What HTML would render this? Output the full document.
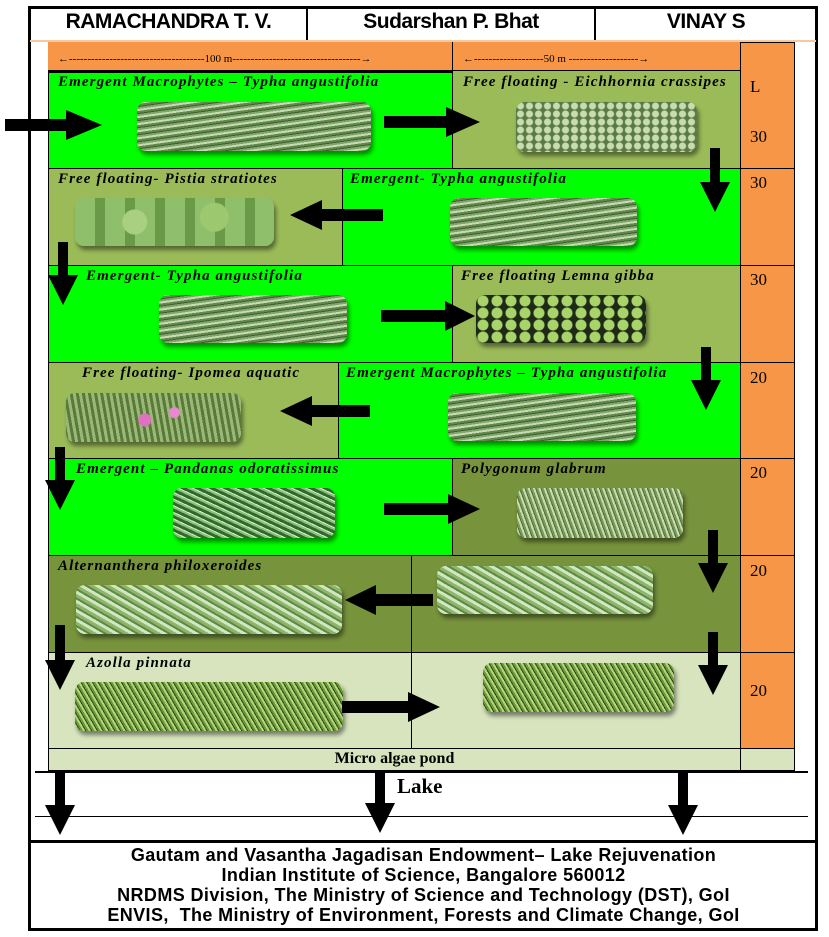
<!DOCTYPE html>
<html><head><meta charset="utf-8"><style>
*{margin:0;padding:0;box-sizing:border-box}
body{width:829px;height:937px;background:#fff;position:relative;overflow:hidden;font-family:"Liberation Serif",serif}
.a{position:absolute}
.c{position:absolute;border:1px solid #000}
.g{background:#00ff00}.o{background:#9bbb59}.d{background:#77933c}.l{background:#d7e4bd}.or{background:#f79646}
.t{position:absolute;font-style:italic;font-weight:bold;font-size:15px;letter-spacing:1.1px;color:#000;white-space:nowrap}
.n{position:absolute;font-size:17px;color:#000}
.img{position:absolute;border-radius:9px;box-shadow:2px 4px 4px rgba(0,0,0,.45)}
.typha{background:repeating-linear-gradient(-8deg,#5f8a4a 0 2px,#c9d9b4 2px 4px,#7ea66a 4px 6px,#3f5f30 6px 7px)}
.eich{background:radial-gradient(circle,#c8dcb0 0 3px,#5a7a44 4px) 0 0/9px 8px}
.pist{background:radial-gradient(circle at 30% 50%,#a8d080 0 12px,transparent 13px),radial-gradient(circle at 70% 40%,#9cc870 0 14px,transparent 15px),repeating-linear-gradient(90deg,#8fbf6a 0 20px,#6a9a48 20px 30px)}
.lem{background:radial-gradient(circle,#a8d46a 0 5px,#1e2a18 6px) 0 0/14px 12px}
.ipo{background:radial-gradient(circle at 45% 55%,#e070c0 0 6px,transparent 7px),radial-gradient(circle at 62% 40%,#e888d0 0 5px,transparent 6px),repeating-linear-gradient(80deg,#5a7a3a 0 3px,#9ab878 3px 6px)}
.pand{background:repeating-linear-gradient(25deg,#2f6a2a 0 3px,#8ac07a 3px 5px,#d8ecd0 5px 6px),#3f7a3a}
.poly{background:repeating-linear-gradient(70deg,#7a9a5a 0 2px,#c8dcb0 2px 4px,#4e6e36 4px 5px)}
.alt{background:repeating-linear-gradient(30deg,#8cb66c 0 3px,#d2e6c0 3px 6px,#5c8a44 6px 8px)}
.azo{background:repeating-linear-gradient(60deg,#6a9a38 0 2px,#b6d47a 2px 4px,#2a4a1a 4px 5px)}
.h{font-family:"Liberation Sans",sans-serif;font-weight:bold;font-size:21px;position:absolute;top:10px;text-align:center;letter-spacing:-0.5px}
.f{font-family:"Liberation Sans",sans-serif;font-weight:bold;font-size:18px;text-align:center;line-height:20px;letter-spacing:0.4px}
</style></head><body>
<div class="a" style="left:28px;top:6px;width:790px;height:925px;border:3px solid #000"></div>
<div class="a" style="left:306px;top:6px;width:2px;height:34px;background:#000"></div>
<div class="a" style="left:594px;top:6px;width:2px;height:34px;background:#000"></div>
<div class="h" style="left:31px;width:275px">RAMACHANDRA T. V.</div>
<div class="h" style="left:308px;width:286px">Sudarshan P. Bhat</div>
<div class="h" style="left:596px;width:220px">VINAY S</div>
<div class="a" style="left:30px;top:40px;width:786px;height:2px;background:#f8c8a0"></div>

<div class="a or" style="left:48px;top:42px;width:692px;height:28px"></div>
<div class="a" style="left:452px;top:42px;width:1px;height:28px;background:#000"></div>
<div class="a" style="left:58px;top:53px;font-size:11px;white-space:nowrap">←-------------------------------------100 m-----------------------------------→</div>
<div class="a" style="left:463px;top:53px;font-size:11px;white-space:nowrap">←-------------------50 m -------------------→</div>
<div class="c or" style="left:740px;top:42px;width:55px;height:127px"></div>
<div class="c or" style="left:740px;top:168px;width:55px;height:98px"></div>
<div class="c or" style="left:740px;top:265px;width:55px;height:98px"></div>
<div class="c or" style="left:740px;top:362px;width:55px;height:97px"></div>
<div class="c or" style="left:740px;top:458px;width:55px;height:98px"></div>
<div class="c or" style="left:740px;top:555px;width:55px;height:98px"></div>
<div class="c or" style="left:740px;top:652px;width:55px;height:97px"></div>
<div class="c l" style="left:740px;top:748px;width:55px;height:23px"></div>
<div class="n" style="left:750px;top:77px">L</div>
<div class="n" style="left:750px;top:127px">30</div>
<div class="n" style="left:750px;top:173px">30</div>
<div class="n" style="left:750px;top:270px">30</div>
<div class="n" style="left:750px;top:368px">20</div>
<div class="n" style="left:750px;top:463px">20</div>
<div class="n" style="left:750px;top:561px">20</div>
<div class="n" style="left:750px;top:681px">20</div>

<div class="c g" style="left:48px;top:70px;width:405px;height:99px;border-top:3px solid #000"></div>
<div class="c o" style="left:452px;top:70px;width:289px;height:99px"></div>
<div class="c o" style="left:48px;top:168px;width:295px;height:98px"></div>
<div class="c g" style="left:342px;top:168px;width:399px;height:98px"></div>
<div class="c g" style="left:48px;top:265px;width:405px;height:98px"></div>
<div class="c o" style="left:452px;top:265px;width:289px;height:98px"></div>
<div class="c o" style="left:48px;top:362px;width:291px;height:97px"></div>
<div class="c g" style="left:338px;top:362px;width:403px;height:97px"></div>
<div class="c g" style="left:48px;top:458px;width:405px;height:98px"></div>
<div class="c d" style="left:452px;top:458px;width:289px;height:98px"></div>
<div class="c d" style="left:48px;top:555px;width:364px;height:98px"></div>
<div class="c d" style="left:411px;top:555px;width:330px;height:98px"></div>
<div class="c l" style="left:48px;top:652px;width:364px;height:97px"></div>
<div class="c l" style="left:411px;top:652px;width:330px;height:97px"></div>
<div class="c l" style="left:48px;top:748px;width:693px;height:23px"></div>
<div class="a" style="left:48px;top:750px;width:693px;text-align:center;font-weight:bold;font-size:16px">Micro algae pond</div>

<div class="t" style="left:58px;top:74px">Emergent Macrophytes – Typha angustifolia</div>
<div class="t" style="left:463px;top:74px">Free floating - Eichhornia crassipes</div>
<div class="t" style="left:58px;top:171px">Free floating- Pistia stratiotes</div>
<div class="t" style="left:350px;top:171px">Emergent- Typha angustifolia</div>
<div class="t" style="left:86px;top:268px">Emergent- Typha angustifolia</div>
<div class="t" style="left:461px;top:268px">Free floating Lemna gibba</div>
<div class="t" style="left:82px;top:365px">Free floating- Ipomea aquatic</div>
<div class="t" style="left:346px;top:365px">Emergent Macrophytes – Typha angustifolia</div>
<div class="t" style="left:76px;top:461px">Emergent – Pandanas odoratissimus</div>
<div class="t" style="left:461px;top:461px">Polygonum glabrum</div>
<div class="t" style="left:58px;top:558px">Alternanthera philoxeroides</div>
<div class="t" style="left:86px;top:655px">Azolla pinnata</div>

<div class="img typha" style="left:137px;top:102px;width:234px;height:49px"></div>
<div class="img eich" style="left:516px;top:102px;width:181px;height:50px"></div>
<div class="img pist" style="left:75px;top:198px;width:199px;height:48px"></div>
<div class="img typha" style="left:450px;top:198px;width:187px;height:48px"></div>
<div class="img typha" style="left:159px;top:295px;width:188px;height:48px"></div>
<div class="img lem" style="left:476px;top:295px;width:170px;height:48px"></div>
<div class="img ipo" style="left:66px;top:393px;width:175px;height:49px"></div>
<div class="img typha" style="left:448px;top:393px;width:188px;height:48px"></div>
<div class="img pand" style="left:173px;top:488px;width:162px;height:50px"></div>
<div class="img poly" style="left:517px;top:488px;width:166px;height:50px"></div>
<div class="img alt" style="left:76px;top:585px;width:266px;height:49px"></div>
<div class="img alt" style="left:437px;top:566px;width:216px;height:48px"></div>
<div class="img azo" style="left:75px;top:682px;width:268px;height:49px"></div>
<div class="img azo" style="left:483px;top:663px;width:191px;height:49px"></div>

<div class="a" style="left:35px;top:771px;width:773px;height:2px;background:#000"></div>
<div class="a" style="left:35px;top:816px;width:773px;height:1px;background:#000"></div>
<div class="a" style="left:397px;top:774px;font-size:21px;font-weight:bold">Lake</div>
<div class="a" style="left:30px;top:840px;width:787px;height:3px;background:#000"></div>
<div class="a f" style="left:30px;top:845px;width:787px">Gautam and Vasantha Jagadisan Endowment– Lake Rejuvenation<br>Indian Institute of Science, Bangalore 560012<br>NRDMS Division, The Ministry of Science and Technology (DST), GoI<br>ENVIS,&nbsp; The Ministry of Environment, Forests and Climate Change, GoI</div>

<svg class="a" style="left:0;top:0" width="829" height="937">
<g fill="#000">
<polygon points="5,119 66,119 66,110 102,125 66,140 66,131 5,131"/>
<polygon points="384,116 446,116 446,107 480,122 446,137 446,128 384,128"/>
<polygon points="383,209 322,209 322,200 290,215 322,230 322,221 383,221"/>
<polygon points="381,310 445,310 445,301 475,316 445,331 445,322 381,322"/>
<polygon points="370,405 312,405 312,396 280,411 312,426 312,417 370,417"/>
<polygon points="384,503 448,503 448,494 480,509 448,524 448,515 384,515"/>
<polygon points="433,594 376,594 376,585 345,600 376,615 376,606 433,606"/>
<polygon points="342,701 408,701 408,692 440,707 408,722 408,713 342,713"/>
<polygon points="710,148 720,148 720,182 730,182 715,212 700,182 710,182"/>
<polygon points="58,242 68,242 68,275 78,275 63,305 48,275 58,275"/>
<polygon points="701,347 711,347 711,380 721,380 706,410 691,380 701,380"/>
<polygon points="55,447 65,447 65,480 75,480 60,510 45,480 55,480"/>
<polygon points="708,530 718,530 718,563 728,563 713,593 698,563 708,563"/>
<polygon points="708,632 718,632 718,665 728,665 713,695 698,665 708,665"/>
<polygon points="55,625 65,625 65,660 75,660 60,690 45,660 55,660"/>
<polygon points="55,771 65,771 65,805 75,805 60,835 45,805 55,805"/>
<polygon points="375,771 385,771 385,803 395,803 380,833 365,803 375,803"/>
<polygon points="678,771 688,771 688,805 698,805 683,835 668,805 678,805"/>
</g>
</svg>
</body></html>
